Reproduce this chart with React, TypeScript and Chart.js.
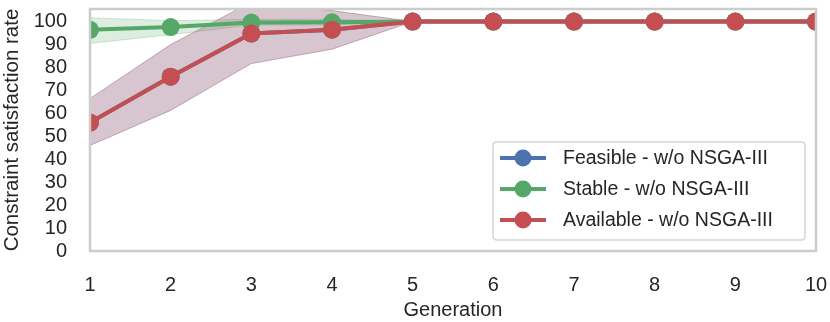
import React, { useEffect, useRef } from "react";
import { Chart, registerables } from "chart.js";

Chart.register(...registerables);

const generations = [1, 2, 3, 4, 5, 6, 7, 8, 9, 10];

const feasibleMean = [56, 76, 94.8, 96.5, 100, 100, 100, 100, 100, 100];
const feasibleLower = [46, 61.3, 81.7, 88, 100, 100, 100, 100, 100, 100];
const feasibleUpper = [66.5, 90, 108.5, 104.8, 100, 100, 100, 100, 100, 100];

const stableMean = [96.4, 97.6, 99.6, 99.7, 100, 100, 100, 100, 100, 100];
const stableLower = [90.5, 94.3, 98.5, 98.5, 100, 100, 100, 100, 100, 100];
const stableUpper = [101.7, 100.4, 101, 101, 100, 100, 100, 100, 100, 100];

const availableMean = [56, 76, 94.8, 96.5, 100, 100, 100, 100, 100, 100];
const availableLower = [46, 61.3, 81.7, 88, 100, 100, 100, 100, 100, 100];
const availableUpper = [66.5, 90, 108.5, 104.8, 100, 100, 100, 100, 100, 100];

const seriesLabels = [
  "Feasible - w/o NSGA-III",
  "Stable - w/o NSGA-III",
  "Available - w/o NSGA-III",
];
const yTicks = [0, 10, 20, 30, 40, 50, 60, 70, 80, 90, 100];

const BLUE = "#4C72B0";
const GREEN = "#55A868";
const RED = "#C44E52";
const FONT = "'Liberation Sans', Arial, sans-serif";
const TEXT = "#262626";

const pts = (arr: number[]) => arr.map((v, i) => ({ x: generations[i], y: v }));

function rgba(hex: string, a: number) {
  const r = parseInt(hex.slice(1, 3), 16);
  const g = parseInt(hex.slice(3, 5), 16);
  const b = parseInt(hex.slice(5, 7), 16);
  return `rgba(${r},${g},${b},${a})`;
}

const bandPair = (lower: number[], upper: number[], color: string, order: number) => [
  {
    label: "_lower",
    data: pts(lower),
    borderColor: rgba(color, 0.25),
    borderWidth: 1,
    pointRadius: 0,
    fill: false,
    order,
    clip: 0,
  },
  {
    label: "_upper",
    data: pts(upper),
    borderColor: rgba(color, 0.25),
    backgroundColor: rgba(color, 0.2),
    borderWidth: 1,
    pointRadius: 0,
    fill: "-1",
    order,
    clip: 0,
  },
];

const meanLine = (label: string, data: number[], color: string, order: number) => ({
  label,
  data: pts(data),
  borderColor: color,
  backgroundColor: color,
  pointBackgroundColor: color,
  pointBorderColor: color,
  borderWidth: 4,
  pointRadius: 9,
  pointBorderWidth: 0,
  fill: false,
  order,
  clip: 0,
});

const framePlugin = {
  id: "frame",
  afterDatasetsDraw(chart: any) {
    const { ctx, chartArea } = chart;
    ctx.save();
    ctx.strokeStyle = "#cccccc";
    ctx.lineWidth = 2.5;
    ctx.strokeRect(
      chartArea.left,
      chartArea.top,
      chartArea.right - chartArea.left,
      chartArea.bottom - chartArea.top
    );
    ctx.restore();
  },
};

const legendPlugin = {
  id: "customLegend",
  afterDraw(chart: any) {
    const { ctx } = chart;
    const colors = [BLUE, GREEN, RED];
    const x0 = 493, y0 = 142, w = 312, h = 98;
    ctx.save();
    ctx.beginPath();
    const r = 4;
    ctx.moveTo(x0 + r, y0);
    ctx.lineTo(x0 + w - r, y0);
    ctx.quadraticCurveTo(x0 + w, y0, x0 + w, y0 + r);
    ctx.lineTo(x0 + w, y0 + h - r);
    ctx.quadraticCurveTo(x0 + w, y0 + h, x0 + w - r, y0 + h);
    ctx.lineTo(x0 + r, y0 + h);
    ctx.quadraticCurveTo(x0, y0 + h, x0, y0 + h - r);
    ctx.lineTo(x0, y0 + r);
    ctx.quadraticCurveTo(x0, y0, x0 + r, y0);
    ctx.closePath();
    ctx.fillStyle = "rgba(255,255,255,0.8)";
    ctx.fill();
    ctx.strokeStyle = "#d6d6d6";
    ctx.lineWidth = 1.5;
    ctx.stroke();
    const rows = [158, 189, 220];
    seriesLabels.forEach((lab, i) => {
      const y = rows[i];
      ctx.strokeStyle = colors[i];
      ctx.lineWidth = 4;
      ctx.beginPath();
      ctx.moveTo(500, y);
      ctx.lineTo(546, y);
      ctx.stroke();
      ctx.fillStyle = colors[i];
      ctx.beginPath();
      ctx.arc(523, y, 8.5, 0, Math.PI * 2);
      ctx.fill();
      ctx.fillStyle = TEXT;
      ctx.font = `19.5px ${FONT}`;
      ctx.textAlign = "left";
      ctx.textBaseline = "middle";
      ctx.fillText(lab, 563, y + 1);
    });
    ctx.restore();
  },
};

export default function App() {
  const ref = useRef<HTMLCanvasElement | null>(null);
  useEffect(() => {
    document.body.style.margin = "0";
    if (!ref.current) return;
    const chart = new Chart(ref.current, {
      type: "line",
      data: {
        datasets: [
          ...bandPair(feasibleLower, feasibleUpper, BLUE, 10),
          ...bandPair(stableLower, stableUpper, GREEN, 9),
          ...bandPair(availableLower, availableUpper, RED, 8),
          meanLine(seriesLabels[0], feasibleMean, BLUE, 2),
          meanLine(seriesLabels[1], stableMean, GREEN, 1),
          meanLine(seriesLabels[2], availableMean, RED, 0),
        ] as any,
      },
      options: {
        animation: false,
        responsive: false,
        maintainAspectRatio: false,
        layout: { padding: { left: 0, right: 14, top: 8, bottom: 0 } },
        plugins: {
          legend: { display: false },
          tooltip: { enabled: false },
        },
        elements: { line: { tension: 0 } },
        scales: {
          x: {
            type: "linear",
            min: 1,
            max: 10,
            grid: { display: false, drawTicks: false },
            border: { display: false },
            ticks: {
              stepSize: 1,
              padding: 22,
              color: TEXT,
              font: { family: FONT, size: 20 },
              maxRotation: 0,
              autoSkip: false,
            },
            title: {
              display: true,
              text: "Generation",
              color: TEXT,
              font: { family: FONT, size: 20 },
              padding: 0,
            },
            afterFit: (s: any) => {
              s.height = 71;
              s.paddingLeft = 0;
              s.paddingRight = 0;
              s.paddingTop = 0;
              s.paddingBottom = 0;
            },
          },
          y: {
            type: "linear",
            min: 0,
            max: 105.5,
            grid: { display: false, drawTicks: false },
            border: { display: false },
            afterBuildTicks: (s: any) => {
              s.ticks = yTicks.map((v) => ({ value: v }));
            },
            ticks: {
              padding: 23,
              color: TEXT,
              font: { family: FONT, size: 20 },
              autoSkip: false,
            },
            title: {
              display: true,
              text: "Constraint satisfaction rate",
              color: TEXT,
              font: { family: FONT, size: 20.5 },
              padding: 0,
            },
            afterFit: (s: any) => {
              s.width = 90;
              s.paddingLeft = 0;
              s.paddingRight = 0;
              s.paddingTop = 0;
              s.paddingBottom = 0;
            },
          },
        },
      },
      plugins: [framePlugin, legendPlugin],
    });
    return () => chart.destroy();
  }, []);
  return (
    <div style={{ width: 830, height: 322 }}>
      <canvas ref={ref} width={830} height={322} style={{ display: "block" }} />
    </div>
  );
}
